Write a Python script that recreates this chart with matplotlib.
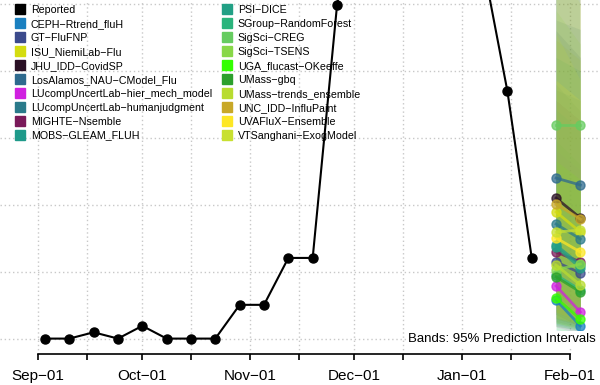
import matplotlib
matplotlib.use('Agg')
import matplotlib.pyplot as plt
import matplotlib.dates as mdates
from matplotlib.lines import Line2D
import numpy as np
from datetime import datetime, timedelta

plt.rcParams['font.family'] = ['Liberation Sans', 'DejaVu Sans']

# Reported weekly data
reported_dates = [datetime(2023, 9, 3) + timedelta(weeks=i) for i in range(21)]
reported_vals = [3, 3, 50, 3, 98, 3, 3, 3, 255, 255, 605, 605, 2490,
                 3600, 4800, 5600, 6100, 5200, 2800, 1850, 605]

# Forecasts: 1 and 2 weeks ahead
fc_dates = [datetime(2024, 1, 28), datetime(2024, 2, 4)]
models = ['CEPH\u2212Rtrend_fluH', 'GT\u2212FluFNP', 'ISU_NiemiLab\u2212Flu', 'JHU_IDD\u2212CovidSP',
          'LosAlamos_NAU\u2212CModel_Flu', 'LUcompUncertLab\u2212hier_mech_model',
          'LUcompUncertLab\u2212humanjudgment', 'MIGHTE\u2212Nsemble', 'MOBS\u2212GLEAM_FLUH',
          'PSI\u2212DICE', 'SGroup\u2212RandomForest', 'SigSci\u2212CREG', 'SigSci\u2212TSENS',
          'UGA_flucast\u2212OKeeffe', 'UMass\u2212gbq', 'UMass\u2212trends_ensemble',
          'UNC_IDD\u2212InfluPaint', 'UVAFluX\u2212Ensemble', 'VTSanghani\u2212ExogModel']
colors = ['#1a80c0', '#3b4a8c', '#d4dc10', '#2a1025', '#2e6a8e', '#d020e0', '#2a7a8a',
          '#7a1a5a', '#1f9a8a', '#22a085', '#2ab47c', '#66cc60', '#88d848', '#33ff00',
          '#2ca02c', '#b8dc30', '#c8a828', '#fde725', '#c8e030']
median = [[291, 97], [575, 493], [948, 798], [1052, 903], [1201, 1149], [396, 201],
          [858, 746], [649, 575], [701, 552], [687, 530], [478, 366], [1597, 1597],
          [515, 560], [306, 149], [463, 351], [552, 403], [1007, 895], [754, 649], [798, 813]]
lower = [[60, 30], [150, 100], [200, 120], [180, 90], [300, 220], [90, 40],
         [150, 110], [130, 90], [120, 80], [110, 70], [100, 60], [350, 300],
         [120, 80], [70, 40], [90, 60], [120, 70], [200, 130], [150, 110], [160, 120]]
upper = [[1900, 1700], [2300, 2100], [2230, 2080], [4400, 4000], [2380, 2310], [1410, 1260],
         [1860, 1780], [1780, 1630], [2100, 2000], [1710, 1560], [1480, 1300], [6260, 7000],
         [2450, 2200], [1330, 1190], [3900, 3600], [2800, 2500], [3000, 2700], [1930, 1780],
         [2280, 1930]]

fig = plt.figure(figsize=(6, 3.85), dpi=100)
ax = fig.add_axes([0, 31 / 385, 1, 354 / 385])

sep1 = datetime(2023, 9, 1)
ax.set_xlim(mdates.date2num(sep1) - 38 / 3.477, mdates.date2num(sep1) + 562 / 3.477)
ax.set_ylim(-15 * 500 / 67, 339 * 500 / 67)

# grid
month_starts = [datetime(2023, 9, 1), datetime(2023, 10, 1), datetime(2023, 11, 1),
                datetime(2023, 12, 1), datetime(2024, 1, 1), datetime(2024, 2, 1)]
mid_months = [datetime(2023, 9, 15), datetime(2023, 10, 15), datetime(2023, 11, 15),
              datetime(2023, 12, 15), datetime(2024, 1, 15)]
for d in month_starts + mid_months:
    ax.axvline(d, color='#c8c8c8', lw=1, ls=(0, (1, 2)), zorder=0)
for y in range(0, 3000, 500):
    ax.axhline(y, color='#c8c8c8', lw=1, ls=(0, (1, 2)), zorder=0)

# prediction bands
for i in range(len(models)):
    ax.fill_between(fc_dates, lower[i], upper[i], color=colors[i], alpha=0.13, lw=0, zorder=1)

# forecasts
for i in range(len(models)):
    ax.plot(fc_dates, median[i], color=colors[i], lw=2, marker='o', ms=6.5,
            alpha=0.75, zorder=3)

ax.plot(reported_dates, reported_vals, color='black', lw=1.5, marker='o', ms=6.5, zorder=4)

ax.text(0.993, 0, 'Bands: 95% Prediction Intervals', transform=ax.get_yaxis_transform(),
        ha='right', va='center', fontsize=9.5, zorder=5,
        bbox=dict(facecolor='white', edgecolor='none', pad=1.5))

# axes styling
for s in ['top', 'right', 'left']:
    ax.spines[s].set_visible(False)
ax.spines['bottom'].set_bounds(mdates.date2num(month_starts[0]), mdates.date2num(month_starts[-1]))
ax.spines['bottom'].set_linewidth(1.2)
ax.set_yticks([])
ax.set_xticks(month_starts)
ax.set_xticklabels([d.strftime('%b') + '\u221201' for d in month_starts])
ax.set_xticks(mid_months, minor=True)
ax.tick_params(axis='x', which='both', length=4, width=1.2, direction='out')
ax.tick_params(axis='x', which='major', labelsize=11, pad=7)
ax.patch.set_alpha(0)

handles = [Line2D([], [], ls='none', marker='s', ms=6.5, color='black')]
handles += [Line2D([], [], ls='none', marker='s', ms=6.5, color=c) for c in colors]
ax.legend(handles, ['Reported'] + models, ncol=2, loc='upper left',
          bbox_to_anchor=(15 / 600, 1 - 5 / 354), frameon=False, fontsize=7.7,
          borderpad=0, borderaxespad=0, handlelength=1.0, handletextpad=0.47,
          columnspacing=0.93, labelspacing=0.37)

fig.savefig('out.png', dpi=100)
